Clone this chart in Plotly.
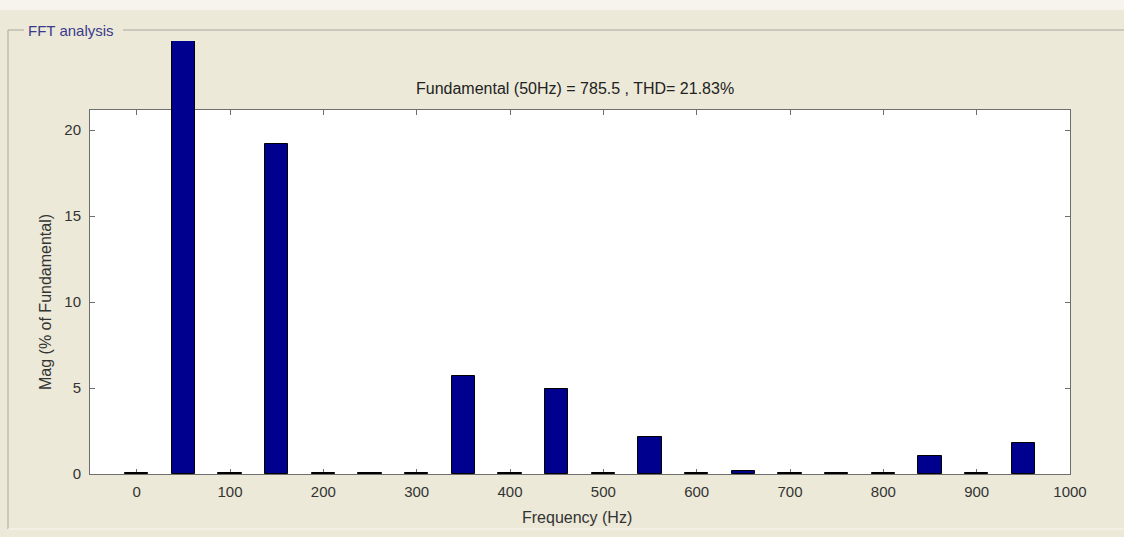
import plotly.graph_objects as go

# ---- data ----
freqs = [0, 50, 100, 150, 200, 250, 300, 350, 400, 450, 500, 550, 600, 650, 700, 750, 800, 850, 900, 950]
mags = [0.08, 100, 0.08, 19.2, 0.08, 0.08, 0.08, 5.7, 0.08, 4.95, 0.08, 2.15, 0.08, 0.15, 0.08, 0.08, 0.08, 1.05, 0.08, 1.8]
x_ticks = [0, 100, 200, 300, 400, 500, 600, 700, 800, 900, 1000]
y_ticks = [0, 5, 10, 15, 20]
title_text = "Fundamental (50Hz) = 785.5 , THD= 21.83%"
panel_title = "FFT analysis"
x_label = "Frequency (Hz)"
y_label = "Mag (% of Fundamental)"

# ---- layout geometry (pixels) ----
W, H = 1124, 537
L, R, T, B = 90, 54, 41, 63
plot_h = H - T - B
plot_w = W - L - R
box_top_px = 109.5
dom_top = (H - B - box_top_px) / plot_h
y_top = 21.2
x_range = [-50, 1000]

FONT = "Liberation Sans, Arial, sans-serif"
BG = "#ECE9D8"
AX = "#6E6E6E"
TXT = "#333333"

fig = go.Figure()
# invisible trace to anchor main axes
fig.add_trace(go.Scatter(x=[x_ticks[0]], y=[y_ticks[0]], mode="markers",
                         marker=dict(opacity=0), showlegend=False, hoverinfo="skip",
                         xaxis="x", yaxis="y"))
fig.add_trace(go.Bar(x=freqs, y=mags, width=25, marker=dict(color="#00008F",
                     line=dict(color="#000000", width=1)),
                     showlegend=False, xaxis="x2", yaxis="y2"))

axis_common = dict(showline=True, linecolor=AX, linewidth=1, mirror="ticks",
                   ticks="inside", ticklen=5, tickcolor=AX, showgrid=False,
                   zeroline=False, tickfont=dict(family=FONT, size=15, color=TXT))

fig.update_layout(
    width=W, height=H,
    margin=dict(l=L, r=R, t=T, b=B, pad=0),
    paper_bgcolor=BG, plot_bgcolor="rgba(0,0,0,0)",
    xaxis=dict(domain=[0, 1], range=x_range, tickvals=x_ticks,
               anchor="y", ticklabelstandoff=4, **axis_common),
    yaxis=dict(domain=[0, dom_top], range=[0, y_top], tickvals=y_ticks,
               anchor="x", ticklabelstandoff=5, **axis_common),
    xaxis2=dict(domain=[0, 1], range=x_range, visible=False, anchor="y2"),
    yaxis2=dict(domain=[0, 1], range=[0, y_top / dom_top], visible=False, anchor="x2"),
    bargap=0,
    shapes=[
        # white plot area
        dict(type="rect", xref="x", yref="y", x0=x_range[0], x1=x_range[1], y0=0, y1=y_top,
             fillcolor="white", line=dict(width=0), layer="below"),
        # lighter strip at the very top of the image
        dict(type="rect", xref="paper", yref="paper",
             x0=-L / plot_w, x1=1 + R / plot_w,
             y0=(H - B - 10) / plot_h, y1=(H - B) / plot_h,
             fillcolor="#F6F4EC", line=dict(width=0), layer="below"),
        # group box lines
        dict(type="line", xref="paper", yref="paper",
             x0=(123 - L) / plot_w, x1=1 + R / plot_w,
             y0=(H - B - 30) / plot_h, y1=(H - B - 30) / plot_h,
             line=dict(color="#A8A79C", width=1)),
        dict(type="line", xref="paper", yref="paper",
             x0=(8 - L) / plot_w, x1=(24 - L) / plot_w,
             y0=(H - B - 30) / plot_h, y1=(H - B - 30) / plot_h,
             line=dict(color="#A8A79C", width=1)),
        dict(type="line", xref="paper", yref="paper",
             x0=(8 - L) / plot_w, x1=(8 - L) / plot_w,
             y0=(H - B - 30) / plot_h, y1=(H - B - 529) / plot_h,
             line=dict(color="#A8A79C", width=1)),
        dict(type="line", xref="paper", yref="paper",
             x0=(8 - L) / plot_w, x1=1 + R / plot_w,
             y0=(H - B - 529) / plot_h, y1=(H - B - 529) / plot_h,
             line=dict(color="#F8F7F0", width=1)),
    ],
    annotations=[
        dict(text=title_text, xref="paper", yref="paper",
             x=(575 - L) / plot_w, y=(H - B - 88) / plot_h,
             xanchor="center", yanchor="middle", showarrow=False,
             font=dict(family=FONT, size=16, color="#222222")),
        dict(text=panel_title, xref="paper", yref="paper",
             x=(26 - L) / plot_w, y=(H - B - 30) / plot_h,
             xanchor="left", yanchor="middle", showarrow=False, bgcolor=BG,
             font=dict(family=FONT, size=15, color="#3A3A8C")),
        dict(text=x_label, xref="paper", yref="paper",
             x=(577 - L) / plot_w, y=(H - B - 517) / plot_h,
             xanchor="center", yanchor="middle", showarrow=False,
             font=dict(family=FONT, size=16, color=TXT)),
        dict(text=y_label, xref="paper", yref="paper",
             x=(45 - L) / plot_w, y=(H - B - 302) / plot_h,
             xanchor="center", yanchor="middle", showarrow=False, textangle=-90,
             font=dict(family=FONT, size=16, color=TXT)),
    ],
)

fig.write_html("out.html")
